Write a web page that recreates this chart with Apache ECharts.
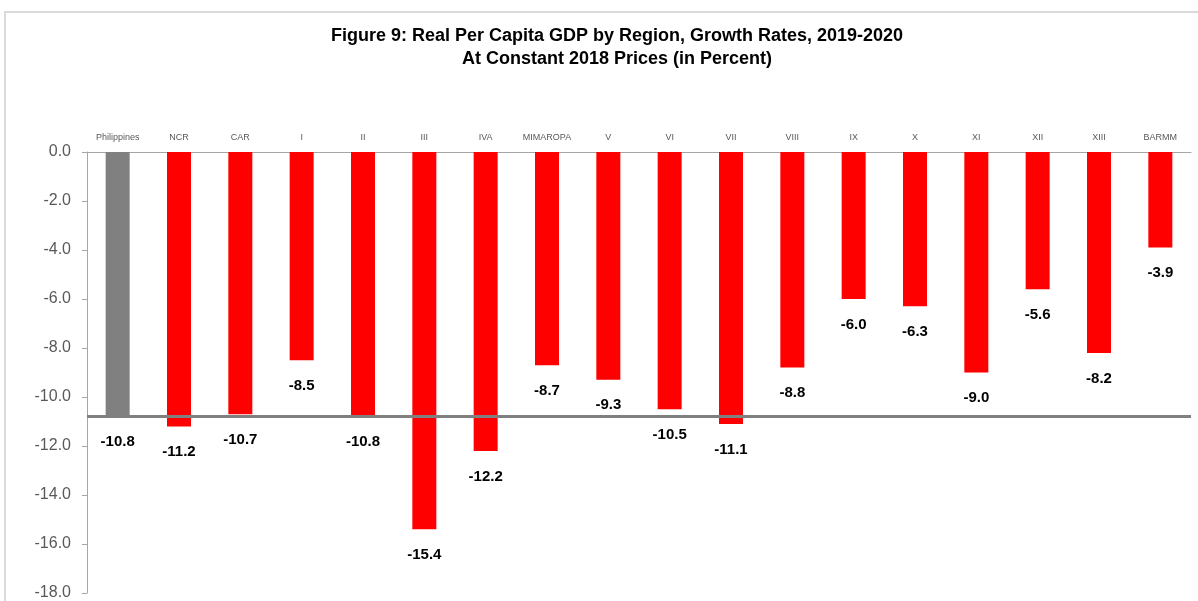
<!DOCTYPE html>
<html lang="en">

<head>
    <meta charset="UTF-8">
    <title>Real Per Capita GDP by Region, Growth Rates, 2019-2020</title>
    <script src="https://cdn.jsdelivr.net/npm/echarts@6/dist/echarts.min.js"></script>
    <style>
        html, body { margin: 0; padding: 0; background: #fff; }
        #main { width: 1198px; height: 601px; }
    </style>
</head>

<body>
    <div id="main"></div>
    <script>
        // regions (top axis) and growth rates in percent
        var regions = ['Philippines', 'NCR', 'CAR', 'I', 'II', 'III', 'IVA', 'MIMAROPA', 'V', 'VI',
            'VII', 'VIII', 'IX', 'X', 'XI', 'XII', 'XIII', 'BARMM'];
        var growth = [-10.8, -11.2, -10.7, -8.5, -10.8, -15.4, -12.2, -8.7, -9.3, -10.5,
            -11.1, -8.8, -6.0, -6.3, -9.0, -5.6, -8.2, -3.9];
        // national average, drawn as a reference line
        var philippinesAvg = -10.8;
        var yTicks = [0, -2, -4, -6, -8, -10, -12, -14, -16, -18];

        var myChart = echarts.init(document.getElementById('main'));

        var barData = growth.map(function (v, i) {
            return {
                value: v,
                itemStyle: { color: regions[i] === 'Philippines' ? '#808080' : '#ff0000' }
            };
        });

        var option = {
            animation: false,
            textStyle: { fontFamily: 'Liberation Sans' },
            graphic: [{
                type: 'rect',
                shape: { x: 5, y: 12, width: 1200, height: 600 },
                style: { fill: 'none', stroke: '#d9d9d9', lineWidth: 2 },
                silent: true
            }],
            title: {
                text: 'Figure 9: Real Per Capita GDP by Region, Growth Rates, 2019-2020\nAt Constant 2018 Prices (in Percent)',
                left: 612,
                top: 20,
                textAlign: 'center',
                textStyle: {
                    fontFamily: 'Liberation Sans',
                    fontSize: 18,
                    fontWeight: 'bold',
                    color: '#000',
                    lineHeight: 23
                }
            },
            grid: { left: 87, right: 7, top: 152, bottom: 4 },
            xAxis: {
                type: 'category',
                position: 'top',
                data: regions,
                axisLine: { lineStyle: { color: '#a6a6a6', width: 1 } },
                axisTick: { inside: true, length: 5, lineStyle: { color: '#a6a6a6' } },
                axisLabel: { fontSize: 9, color: '#595959', margin: 10, interval: 0 }
            },
            yAxis: {
                type: 'value',
                min: Math.min.apply(null, yTicks),
                max: Math.max.apply(null, yTicks),
                interval: 2,
                axisLine: { show: true, lineStyle: { color: '#a6a6a6' } },
                axisTick: { show: true, length: 5, lineStyle: { color: '#a6a6a6' } },
                splitLine: { show: false },
                axisLabel: {
                    fontSize: 16,
                    color: '#595959',
                    margin: 16,
                    formatter: function (v) { return v.toFixed(1); }
                }
            },
            series: [{
                type: 'bar',
                data: barData,
                barWidth: 24,
                label: {
                    show: true,
                    position: 'bottom',
                    distance: 18,
                    fontSize: 15,
                    fontWeight: 'bold',
                    color: '#000',
                    formatter: function (p) { return p.value.toFixed(1); }
                },
                markLine: {
                    silent: true,
                    symbol: 'none',
                    label: { show: false },
                    lineStyle: { color: '#808080', width: 3, type: 'solid' },
                    data: [{ yAxis: philippinesAvg }]
                }
            }]
        };

        myChart.setOption(option);
    </script>
</body>

</html>
